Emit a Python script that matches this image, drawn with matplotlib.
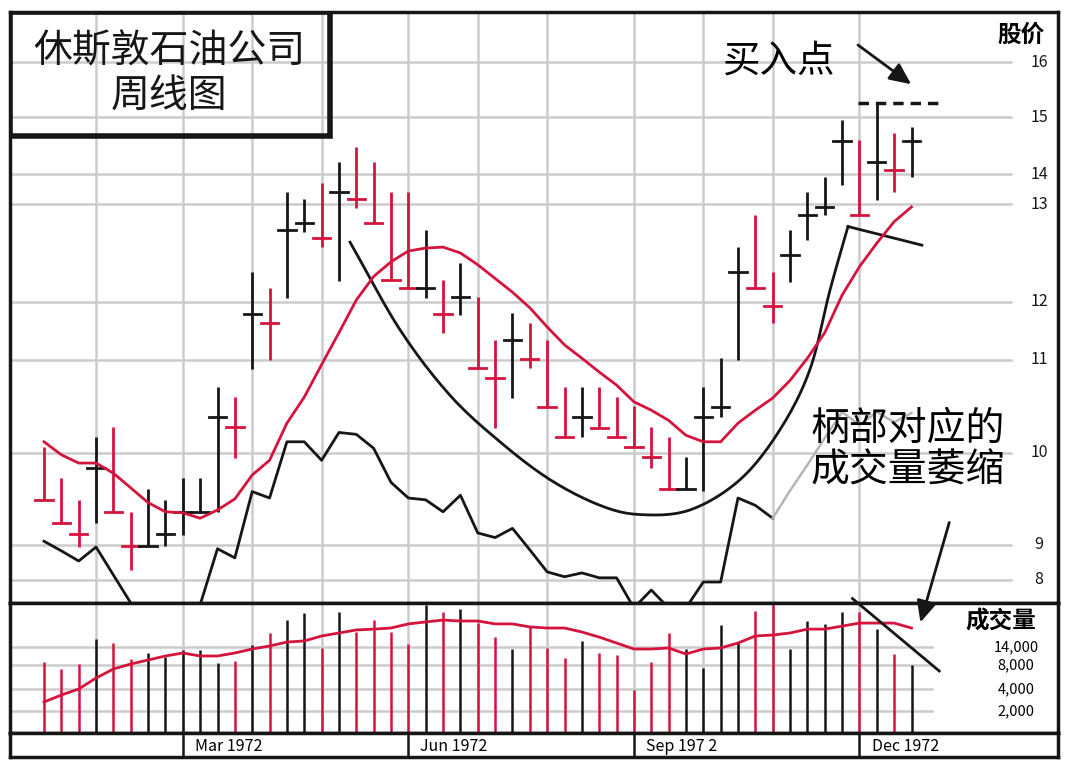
import numpy as np
import matplotlib
matplotlib.use("Agg")
import matplotlib.pyplot as plt
from matplotlib.patches import Rectangle

plt.rcParams['font.family'] = ['Noto Sans CJK SC', 'DejaVu Sans']

RED = '#d4143c'
BLK = '#161616'
GRID = '#cccccc'

# ---------------- data ----------------
high = [10.06, 9.73, 9.49, 10.17, 10.28, 9.36, 9.61, 9.49, 9.73, 9.73, 10.71, 10.60, 12.31, 12.14, 13.40, 13.17, 13.70,
        14.21, 14.47, 14.21, 13.40, 13.40, 12.73, 12.22, 12.40, 12.05, 11.34, 11.81, 11.64, 11.34, 10.71, 10.71, 10.71,
        10.60, 10.51, 10.28, 10.17, 9.96, 10.71, 11.03, 12.56, 12.89, 12.31, 12.73, 13.40, 13.90, 14.95, 14.60, 15.25,
        14.72, 14.82]
low = [9.49, 9.24, 8.94, 9.24, 9.36, 8.29, 8.97, 8.97, 9.11, 9.36, 9.36, 9.95, 10.90, 11.00, 12.04, 12.71, 12.56,
       12.21, 12.96, 12.81, 12.22, 12.14, 12.04, 11.47, 11.78, 10.91, 10.27, 10.59, 10.91, 10.49, 10.17, 10.17, 10.27,
       10.17, 10.06, 9.84, 9.61, 9.61, 9.59, 10.39, 11.00, 12.14, 11.64, 12.20, 12.63, 12.89, 13.63, 12.89, 13.13,
       13.40, 13.90]
close = [9.49, 9.24, 9.12, 9.84, 9.36, 8.97, 8.97, 9.12, 9.36, 9.36, 10.39, 10.28, 11.79, 11.64, 12.73, 12.81, 12.65,
         13.40, 13.17, 12.81, 12.22, 12.14, 12.14, 11.79, 12.05, 10.91, 10.81, 11.34, 11.01, 10.49, 10.17, 10.39, 10.27,
         10.17, 10.06, 9.96, 9.61, 9.61, 10.39, 10.49, 12.31, 12.14, 11.93, 12.48, 12.89, 12.97, 14.58, 12.89, 14.21,
         14.07, 14.58]
down = [1, 1, 1, 0, 1, 1, 0, 0, 0, 0, 0, 1, 0, 1, 0, 0, 1, 0, 1, 1, 1, 1, 0, 1, 0, 1, 1, 0, 1, 1, 1, 0, 1, 1, 1, 1,
        1, 0, 0, 0, 0, 1, 1, 0, 0, 0, 0, 1, 0, 1, 0]
ma_price = [10.12, 9.98, 9.89, 9.89, 9.78, 9.62, 9.46, 9.36, 9.35, 9.29, 9.38, 9.50, 9.76, 9.92, 10.32, 10.60, 10.95,
            11.47, 12.02, 12.26, 12.41, 12.52, 12.55, 12.56, 12.50, 12.38, 12.24, 12.10, 11.90, 11.57, 11.26, 11.03,
            10.87, 10.73, 10.55, 10.46, 10.35, 10.19, 10.12, 10.12, 10.32, 10.46, 10.59, 10.78, 11.03, 11.47, 12.07,
            12.36, 12.60, 12.82, 12.97]
rs_line = [9.04, 8.83, 8.54, 8.94, 8.14, 7.34, 7.0, 7.0, 7.0, 7.29, 8.89, 8.63, 9.58, 9.51, 10.12, 10.12, 9.92, 10.22,
           10.20, 10.05, 9.68, 9.51, 9.49, 9.36, 9.54, 9.13, 9.08, 9.18, 8.86, 8.23, 8.09, 8.20, 8.06, 8.06, 7.2,
           7.71, 7.2, 7.2, 7.94, 7.94, 9.51, 9.43, 9.29]
rs_handle = [9.29, 9.59, 9.87, 10.16, 10.44, 10.30, 10.44, 10.33, 10.43]   # weeks 42..50 (grey)
volume = [9000, 7330, 8330, 16900, 15450, 10000, 12000, 10660, 13000, 13000, 8670, 9330, 14700, 19100, 23800, 26400,
          13670, 26700, 19450, 23800, 19450, 15100, 29300, 26700, 27800, 22700, 17600, 13330, 21300, 13670, 10330,
          16200, 12000, 11330, 3910, 9000, 19100, 13330, 7500, 22000, 15800, 27100, 30000, 13330, 23450, 22400,
          26700, 26700, 20500, 11660, 8000]
ma_vol = [2820, 3450, 4000, 5830, 7330, 8330, 9670, 11000, 12000, 11000, 11000, 12000, 13330, 14360, 15800, 16200,
          18000, 19100, 20200, 20500, 20900, 22400, 23100, 23800, 23450, 23450, 22400, 22400, 21300, 20900, 20900,
          19450, 17600, 15450, 13330, 13330, 13670, 11660, 13330, 13670, 15450, 18000, 18360, 19100, 20500, 20500,
          21600, 22700, 22700, 22700, 20900]
# cup & handle sketch (week, price)
cup_x = [17.64, 20.52, 23.4, 26.28, 29.16, 32.05, 34.35, 37.23, 40.12, 42.42, 44.15, 45.3, 46.34]
cup_y = [12.61, 11.52, 10.62, 10.12, 9.71, 9.43, 9.33, 9.38, 9.71, 10.25, 10.9, 12.12, 12.77]
handle_x = [46.34, 50.6]
handle_y = [12.77, 12.58]
buy_point = 15.25

price_ticks = [8, 9, 10, 11, 12, 13, 14, 15, 16]
vol_ticks = [2000, 4000, 8000, 14000]
vol_tick_labels = ['2,000', '4,000', '8,000', '14,000']
grid_weeks = [3, 8, 12, 16, 21, 25, 29, 34, 38, 42, 47]
month_weeks = [8, 21, 34, 47]
month_labels = ['Mar 1972', 'Jun 1972', 'Sep 197 2', 'Dec 1972']

# chart's own (non-uniform) scales
P_ANCH = [7, 8, 9, 10, 11, 12, 13, 14, 15, 16, 17]
P_POS = [-615, -580, -545, -453, -360, -302, -204, -174, -117, -62, -7]
V_ANCH = [0, 2000, 4000, 8000, 14000, 30000, 40000]
V_POS = [-732, -710, -688, -664, -646, -602, -580]

def pf(v): return np.interp(v, P_ANCH, P_POS)
def pi(u): return np.interp(u, P_POS, P_ANCH)
def vf(v): return np.interp(v, V_ANCH, V_POS)
def vi(u): return np.interp(u, V_POS, V_ANCH)

def smooth(xs, ys, k=12):
    # Catmull-Rom through the sketch points in the chart's own scale space
    P = np.column_stack([xs, pf(np.array(ys))])
    P = np.vstack([P[0] * 2 - P[1], P, P[-1] * 2 - P[-2]])
    out = []
    for i in range(1, len(P) - 2):
        p0, p1, p2, p3 = P[i - 1], P[i], P[i + 1], P[i + 2]
        for t in np.linspace(0, 1, k, endpoint=False):
            t2, t3 = t * t, t * t * t
            out.append(0.5 * ((2 * p1) + (-p0 + p2) * t + (2 * p0 - 5 * p1 + 4 * p2 - p3) * t2 +
                              (-p0 + 3 * p1 - 3 * p2 + p3) * t3))
    out.append(P[-2])
    out = np.array(out)
    return out[:, 0], pi(out[:, 1])

W, H = 1075, 768
fig = plt.figure(figsize=(W / 100, H / 100), dpi=100)
x0, x1 = 10, 1058
axp = fig.add_axes([x0 / W, 1 - 603 / H, (x1 - x0) / W, (603 - 12) / H])
axv = fig.add_axes([x0 / W, 1 - 733 / H, (x1 - x0) / W, (733 - 603) / H])
axd = fig.add_axes([x0 / W, 1 - 757 / H, (x1 - x0) / W, (757 - 733) / H])

step = 17.35
xl = ((x0 - 44) / step, (x1 - 44) / step)
n = len(close)
wk = np.arange(n)

for ax in (axp, axv, axd):
    ax.set_xlim(*xl)
    ax.set_xticks([]); ax.set_yticks([])
    for s in ax.spines.values():
        s.set_linewidth(2.5); s.set_color(BLK)

# price panel
axp.set_yscale('function', functions=(pf, pi))
axp.set_ylim(7.34, 16.91)
axp.set_yticks([]); axp.minorticks_off()
for t in price_ticks:
    axp.axhline(t, xmax=0.955, color=GRID, lw=1.8, zorder=0)
    axp.text(0.982, t, str(t), transform=axp.get_yaxis_transform(), ha='center', va='center', fontsize=11.5,
             color=BLK)
for g in grid_weeks:
    axp.axvline(g, color=GRID, lw=1.8, zorder=0)
for i in range(n):
    c = RED if down[i] else BLK
    axp.plot([i, i], [low[i], high[i]], color=c, lw=2.0, solid_capstyle='butt', zorder=3)
    axp.plot([i - 0.5, i + 0.5], [close[i], close[i]], color=c, lw=2.0, zorder=3)
axp.plot(wk, ma_price, color=RED, lw=2.0, zorder=4)
axp.plot(wk[:len(rs_line)], rs_line, color=BLK, lw=2.0, zorder=2)
axp.plot(np.arange(42, 42 + len(rs_handle)), rs_handle, color='#b5b5b5', lw=1.8, zorder=2)
cx, cy = smooth(cup_x, cup_y)
axp.plot(cx, cy, color=BLK, lw=2.0, zorder=2)
axp.plot(handle_x, handle_y, color=BLK, lw=2.0, zorder=2)
axp.plot([46.9, 51.6], [buy_point, buy_point], color=BLK, lw=2.5, ls=(0, (3, 2)))

axp.add_patch(Rectangle((0, 0.79), 0.305, 0.21, transform=axp.transAxes, fill=False, lw=4, ec=BLK, zorder=6))
axp.text(0.152, 0.895, '休斯敦石油公司\n周线图', transform=axp.transAxes, ha='center', va='center', fontsize=28,
         linespacing=1.15, color=BLK)
axp.text(0.965, 0.962, '股价', transform=axp.transAxes, ha='center', va='center', fontsize=17, fontweight='bold')
axp.text(0.733, 0.917, '买入点', transform=axp.transAxes, ha='center', va='center', fontsize=27)
axp.annotate('', xy=(0.862, 0.875), xytext=(0.807, 0.947), xycoords='axes fraction',
             arrowprops=dict(arrowstyle='-|>,head_width=0.6,head_length=1.3', color=BLK, lw=2))
axp.text(0.857, 0.26, '柄部对应的\n成交量萎缩', transform=axp.transAxes, ha='center', va='center', fontsize=28,
         linespacing=1.05, fontweight='light')

# volume panel
axv.set_yscale('function', functions=(vf, vi))
axv.set_ylim(0, 30000)
axv.set_yticks([]); axv.minorticks_off()
for t, lab in zip(vol_ticks, vol_tick_labels):
    axv.axhline(t, xmax=0.88, color=GRID, lw=1.8, zorder=0)
    axv.text(0.96, t, lab, transform=axv.get_yaxis_transform(), ha='center', va='center', fontsize=10.5)
for g in grid_weeks:
    axv.axvline(g, color=GRID, lw=1.8, zorder=0)
for i in range(n):
    axv.plot([i, i], [0, volume[i]], color=RED if down[i] else BLK, lw=1.8, solid_capstyle='butt')
axv.plot(wk, ma_vol, color=RED, lw=2.0)
axv.plot([46.6, 51.6], [32000, 7000], color=BLK, lw=2, clip_on=False)
axv.text(0.945, 0.86, '成交量', transform=axv.transAxes, ha='center', va='center', fontsize=17, fontweight='bold')
axv.annotate('', xy=(0.868, 0.83), xytext=(0.897, 1.64), xycoords='axes fraction',
             arrowprops=dict(arrowstyle='-|>,head_width=0.6,head_length=1.3', color=BLK, lw=2),
             annotation_clip=False)

# date strip
for w, lab in zip(month_weeks, month_labels):
    axd.axvline(w, color=BLK, lw=1.8)
    axd.text(w + 0.7, 0.45, lab, ha='left', va='center', fontsize=11.5, transform=axd.get_xaxis_transform())

fig.savefig('out.png', dpi=100)
